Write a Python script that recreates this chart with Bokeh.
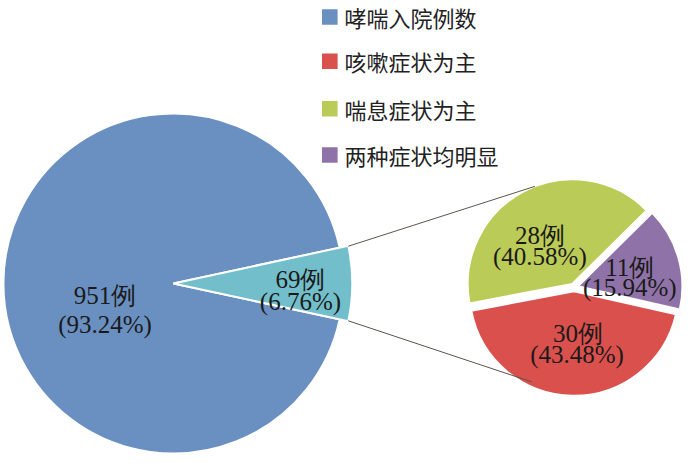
import math
from bokeh.plotting import figure
from bokeh.models import Range1d
from bokeh.embed import file_html
from bokeh.resources import INLINE
from bokeh.core.properties import value

# ---------------- data ----------------
legend_names = ["哮喘入院例数", "咳嗽症状为主", "喘息症状为主", "两种症状均明显"]
main_counts = [951, 69]
main_pcts = ["93.24%", "6.76%"]
sub_names = ["咳嗽症状为主", "两种症状均明显", "喘息症状为主"]   # counter-clockwise order
sub_counts = [30, 11, 28]
sub_pcts = ["43.48%", "15.94%", "40.58%"]

# ---------------- style ----------------
C_BLUE, C_TEAL = "#6A90C2", "#72BFCB"
C_RED, C_PURPLE, C_GREEN = "#D9504D", "#8F73A8", "#BBCB57"
legend_colors = [C_BLUE, C_RED, C_GREEN, C_PURPLE]
sub_colors = [C_RED, C_PURPLE, C_GREEN]

W, H = 700, 469
def Y(sy):  # reference-picture y -> data y
    return H - sy

p = figure(width=684, height=453, output_backend="svg", toolbar_location=None,
           x_range=Range1d(0, W), y_range=Range1d(0, H), min_border=0,
           background_fill_color="white", border_fill_color="white")
p.axis.visible = False
p.grid.visible = False
p.outline_line_color = None

# ---------------- main pie ----------------
mcx, mcy = 177, Y(293)
total = sum(main_counts)
teal_span = 2 * math.pi * main_counts[1] / total
t0, t1 = -teal_span / 2, teal_span / 2
p.wedge(x=[mcx], y=[mcy], radius=174, start_angle=[t1], end_angle=[t0 + 2 * math.pi],
        fill_color=C_BLUE, line_color="white", line_width=2)
p.wedge(x=[mcx], y=[mcy], radius=183, start_angle=[t0], end_angle=[t1],
        fill_color=C_TEAL, line_color="white", line_width=2)

# ---------------- secondary pie ----------------
scx, scy, sr, expl = 587, Y(297), 107, 4
sub_total = sum(sub_counts)
red_span = 2 * math.pi * sub_counts[0] / sub_total
a = -math.pi / 2 - math.radians(1) - red_span / 2
starts, ends, xs, ys = [], [], [], []
for c in sub_counts:
    span = 2 * math.pi * c / sub_total
    mid = a + span / 2
    starts.append(a)
    ends.append(a + span)
    xs.append(scx + expl * math.cos(mid))
    ys.append(scy + expl * math.sin(mid))
    a += span
p.wedge(x=xs, y=ys, radius=sr, start_angle=starts, end_angle=ends,
        fill_color=sub_colors, line_color="white", line_width=2)

# ---------------- connector lines ----------------
tx0 = mcx + 183 * math.cos(t1); ty0 = mcy + 183 * math.sin(t1)
tx1 = mcx + 183 * math.cos(t0); ty1 = mcy + 183 * math.sin(t0)
ua, la = math.radians(111), math.radians(-114)
p.segment(x0=[tx0, tx1], y0=[ty0, ty1],
          x1=[scx + 112 * math.cos(ua), scx + 107 * math.cos(la)],
          y1=[scy + 112 * math.sin(ua), scy + 107 * math.sin(la)],
          line_color="#5a5550", line_width=1)

# ---------------- slice labels ----------------
FS = "25px"
lab1 = [f"{main_counts[0]}例", f"{main_counts[1]}例", f"{sub_counts[2]}例", f"{sub_counts[1]}例", f"{sub_counts[0]}例"]
lab2 = [f"({main_pcts[0]})", f"({main_pcts[1]})", f"({sub_pcts[2]})", f"({sub_pcts[1]})", f"({sub_pcts[0]})"]
pos1 = [(107, 296.5), (307, 280.5), (552, 235), (644, 267.5), (591, 336.5)]
pos2 = [(107, 327), (307, 303.5), (552, 256.5), (644, 288.5), (590, 357.5)]
off = 8.5
p.text(x=[q[0] for q in pos1], y=[Y(q[1] + off) for q in pos1], text=lab1,
       text_font=value("Liberation Serif"), text_font_size=FS, text_color="#1a1a1a",
       text_align="center", text_baseline="alphabetic")
p.text(x=[q[0] for q in pos2], y=[Y(q[1] + off) for q in pos2], text=lab2,
       text_font=value("Liberation Serif"), text_font_size=FS, text_color="#1a1a1a",
       text_align="center", text_baseline="alphabetic")

# ---------------- legend ----------------
rows = [17, 63, 112, 160]
p.rect(x=[337] * 4, y=[Y(r) for r in rows], width=16, height=16,
       fill_color=legend_colors, line_color=None)
p.text(x=[352] * 4, y=[Y(r) for r in rows], text=legend_names,
       text_font=value("Noto Sans CJK SC"), text_font_size="22px", text_color="#222222",
       text_align="left", text_baseline="middle")

open("out.html", "w").write(file_html(p, INLINE))
